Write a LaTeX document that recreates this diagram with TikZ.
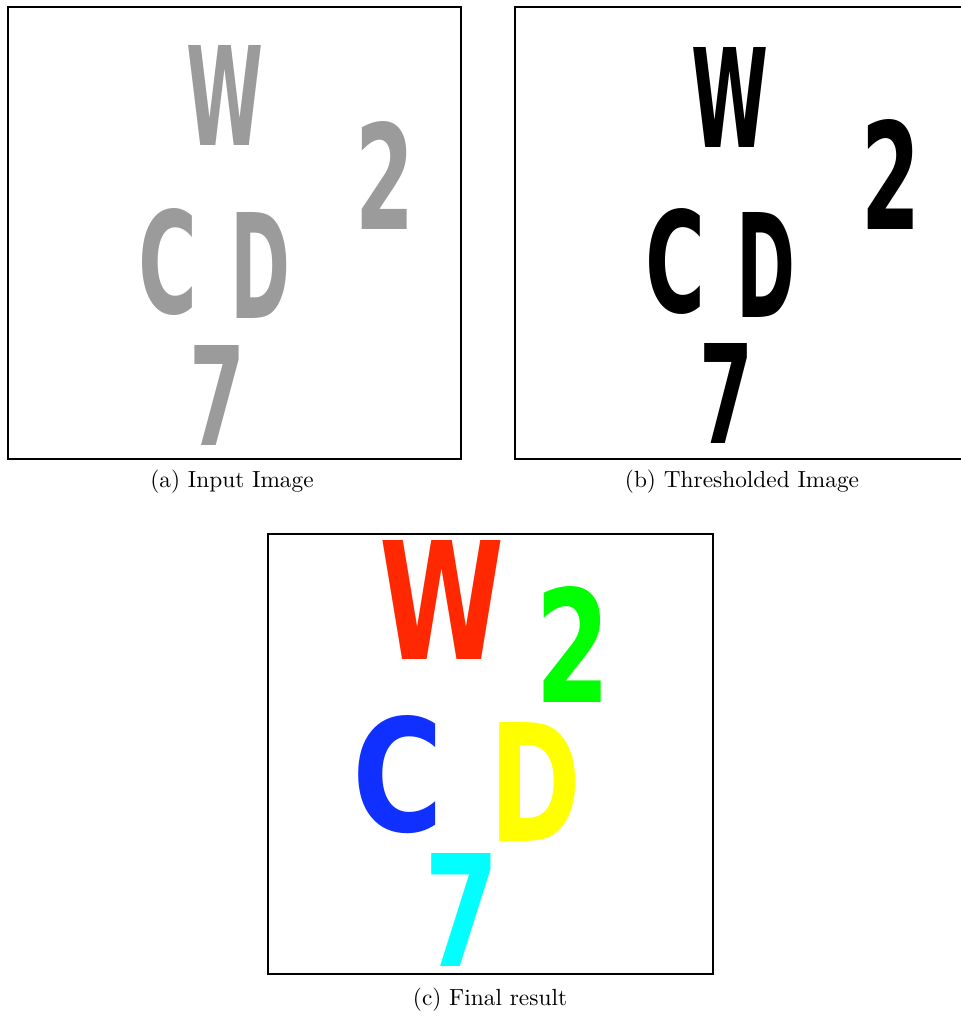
\documentclass[tikz,border=0pt]{standalone}
\usepackage{fontspec}
\usepackage{graphicx}
\newfontfamily\glyphfont{DejaVu Sans}
\newlength\upx
\setlength\upx{0.42pt}
\newcommand\glyph[3]{\resizebox{#1\upx}{#2\upx}{\glyphfont #3}}
\definecolor{inkgray}{RGB}{155,155,155}
\definecolor{segred}{RGB}{255,40,0}
\definecolor{seggreen}{RGB}{0,255,0}
\definecolor{segblue}{RGB}{15,48,255}
\definecolor{segyellow}{RGB}{255,255,0}
\definecolor{segcyan}{RGB}{0,255,255}
\tikzset{
  frame/.style={draw=black, line width=2\upx},
  glyphnode/.style={inner sep=0pt, outer sep=0pt},
  caption/.style={inner sep=0pt, font=\fontsize{9.8}{12}\selectfont},
}
\begin{document}
\begin{tikzpicture}[x=0.42pt, y=-0.42pt]
\useasboundingbox[fill=white] (0,0) rectangle (960,1016);
% frames
\draw[frame] (8,7) rectangle (461,459);
\draw[frame] (515,7) rectangle (966,459);
\draw[frame] (268,534) rectangle (713,974);
% (a) input image: gray letters
\node[glyphnode, text=inkgray] (aW) at (225,96) {\glyph{77}{100}{\bfseries W}};
\node[glyphnode, text=inkgray] (a2) at (385,176) {\glyph{59}{108}{\bfseries 2}};
\node[glyphnode, text=inkgray] (aC) at (168,262) {\glyph{59}{105}{\bfseries C}};
\node[glyphnode, text=inkgray] (aD) at (260,265) {\glyph{60}{106}{\bfseries D}};
\node[glyphnode, text=inkgray] (a7) at (218,395) {\glyph{56}{100}{\bfseries 7}};
% (b) thresholded image
\node[glyphnode, text=black] (bW) at (730,97) {\glyph{77}{100}{\bfseries W}};
\node[glyphnode, text=black] (b2) at (891,175) {\glyph{59}{110}{\bfseries 2}};
\node[glyphnode, text=black] (bC) at (675,261) {\glyph{60}{104}{\bfseries C}};
\node[glyphnode, text=black] (bD) at (766,265) {\glyph{59}{105}{\bfseries D}};
\node[glyphnode, text=black] (b7) at (726,393) {\glyph{54}{100}{\bfseries 7}};
% (c) final result
\node[glyphnode, text=segred] (cW) at (442,600) {\glyph{125}{119}{\bfseries W}};
\node[glyphnode, text=seggreen] (c2) at (573,644) {\glyph{75}{116}{\bfseries 2}};
\node[glyphnode, text=segblue] (cC) at (398,775) {\glyph{91}{116}{\bfseries C}};
\node[glyphnode, text=segyellow] (cD) at (535,782) {\glyph{92}{119}{\bfseries D}};
\node[glyphnode, text=segcyan] (c7) at (462,910) {\glyph{75}{113}{\bfseries 7}};
% captions
\node[caption] (capA) at (232,482) {(a) Input Image};
\node[caption] (capB) at (742,482) {(b) Thresholded Image};
\node[caption] (capC) at (490,1000) {(c) Final result};
\end{tikzpicture}
\end{document}
